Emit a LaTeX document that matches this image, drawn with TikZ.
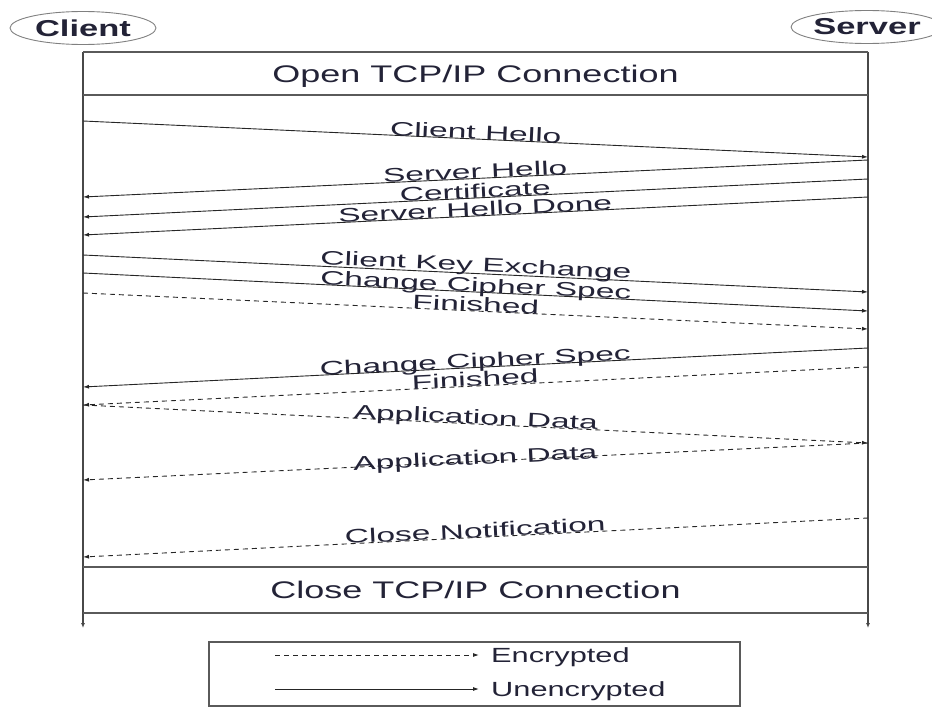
\documentclass[tikz,border=0pt]{standalone}
\usepackage{fontspec}
\setmainfont{Liberation Sans}[FakeStretch=1.5]
\newfontfamily\msgfont{Liberation Sans}[FakeStretch=1.72]
\usetikzlibrary{arrows.meta,shapes.geometric}
\definecolor{ink}{RGB}{35,35,55}
\definecolor{frame}{RGB}{90,90,90}
\begin{document}
\begin{tikzpicture}[x=1pt,y=-1pt,
  lifeline/.style={draw=frame!80!black, line width=1.6pt, -{Latex[length=5pt,width=4pt]}},
  rulefr/.style={draw=frame, line width=1.4pt},
  msg/.style={draw=black!85, line width=0.9pt, -{Latex[length=6pt,width=4pt]}},
  enc/.style={msg, dash pattern=on 5pt off 4pt},
  lbl/.style={sloped, pos=0.5, anchor=base, inner sep=0pt, text=ink, font=\msgfont\fontsize{19.5}{22}\selectfont},
  party/.style={ellipse, draw=gray, line width=0.9pt, minimum width=146pt, minimum height=33pt, inner sep=0pt, text=ink, font=\fontsize{23}{25}\selectfont\bfseries},
  banner/.style={anchor=base, inner sep=0pt, text=ink, font=\fontsize{24}{26}\selectfont},
  legtext/.style={anchor=base west, inner sep=0pt, text=ink, font=\fontsize{20.5}{22}\selectfont}
]
\useasboundingbox (0,0) rectangle (932,709);

% parties
\node[party] (client) at (83,28) {Client};
\node[party] (server) at (867,27) {Server};

% lifelines and frame rules
\coordinate (cTop) at (83,52);   \coordinate (cEnd) at (83,628);
\coordinate (sTop) at (868,52);  \coordinate (sEnd) at (868,628);
\draw[lifeline] (cTop) -- (cEnd);
\draw[lifeline] (sTop) -- (sEnd);
\draw[rulefr] (cTop) -- (sTop);
\coordinate (cA) at (83,95);  \coordinate (sA) at (868,95);
\coordinate (cB) at (83,567); \coordinate (sB) at (868,567);
\coordinate (cC) at (83,613); \coordinate (sC) at (868,613);
\draw[rulefr] (cA) -- (sA);
\draw[rulefr] (cB) -- (sB);
\draw[rulefr] (cC) -- (sC);

\node[banner] (open) at (475.5,82) {Open TCP/IP Connection};
\node[banner] (close) at (475.5,598) {Close TCP/IP Connection};

% message end points on the lifelines
\coordinate (L1) at (83,121);  \coordinate (R1) at (868,157);
\coordinate (R2) at (868,160); \coordinate (L2) at (83,197);
\coordinate (R3) at (868,179); \coordinate (L3) at (83,217);
\coordinate (R4) at (868,197); \coordinate (L4) at (83,235);
\coordinate (L5) at (83,255);  \coordinate (R5) at (868,292);
\coordinate (L6) at (83,273);  \coordinate (R6) at (868,311);
\coordinate (L7) at (83,293);  \coordinate (R7) at (868,329);
\coordinate (R8) at (868,348); \coordinate (L8) at (83,387);
\coordinate (R9) at (868,367); \coordinate (L9) at (83,405);
\coordinate (L10) at (83,405); \coordinate (R10) at (868,443);
\coordinate (R11) at (868,443);\coordinate (L11) at (83,480);
\coordinate (R12) at (868,518);\coordinate (L12) at (83,557);

% handshake
\draw[msg] (L1) -- node[lbl] {Client Hello} (R1);
\draw[msg] (R2) -- node[lbl] {Server Hello} (L2);
\draw[msg] (R3) -- node[lbl] {Certificate} (L3);
\draw[msg] (R4) -- node[lbl] {Server Hello Done} (L4);
\draw[msg] (L5) -- node[lbl, yshift=2pt] {Client Key Exchange} (R5);
\draw[msg] (L6) -- node[lbl] {Change Cipher Spec} (R6);
\draw[enc] (L7) -- node[lbl] {Finished} (R7);
\draw[msg] (R8) -- node[lbl] {Change Cipher Spec} (L8);
\draw[enc] (R9) -- node[lbl] {Finished} (L9);

% data exchange
\draw[enc] (L10) -- node[lbl] {Application Data} (R10);
\draw[enc] (R11) -- node[lbl, yshift=-3pt] {Application Data} (L11);
\draw[enc] (R12) -- node[lbl] {Close Notification} (L12);

% legend
\node[draw=frame, line width=1.4pt, minimum width=531pt, minimum height=64pt, inner sep=0pt] (legend) at (474.5,674) {};
\coordinate (e1) at (275,655); \coordinate (e2) at (479,655);
\coordinate (u1) at (275,689); \coordinate (u2) at (479,689);
\draw[enc] (e1) -- (e2);
\draw[msg] (u1) -- (u2);
\node[legtext] (encl) at (491,662) {Encrypted};
\node[legtext] (unencl) at (491,696) {Unencrypted};
\end{tikzpicture}
\end{document}
